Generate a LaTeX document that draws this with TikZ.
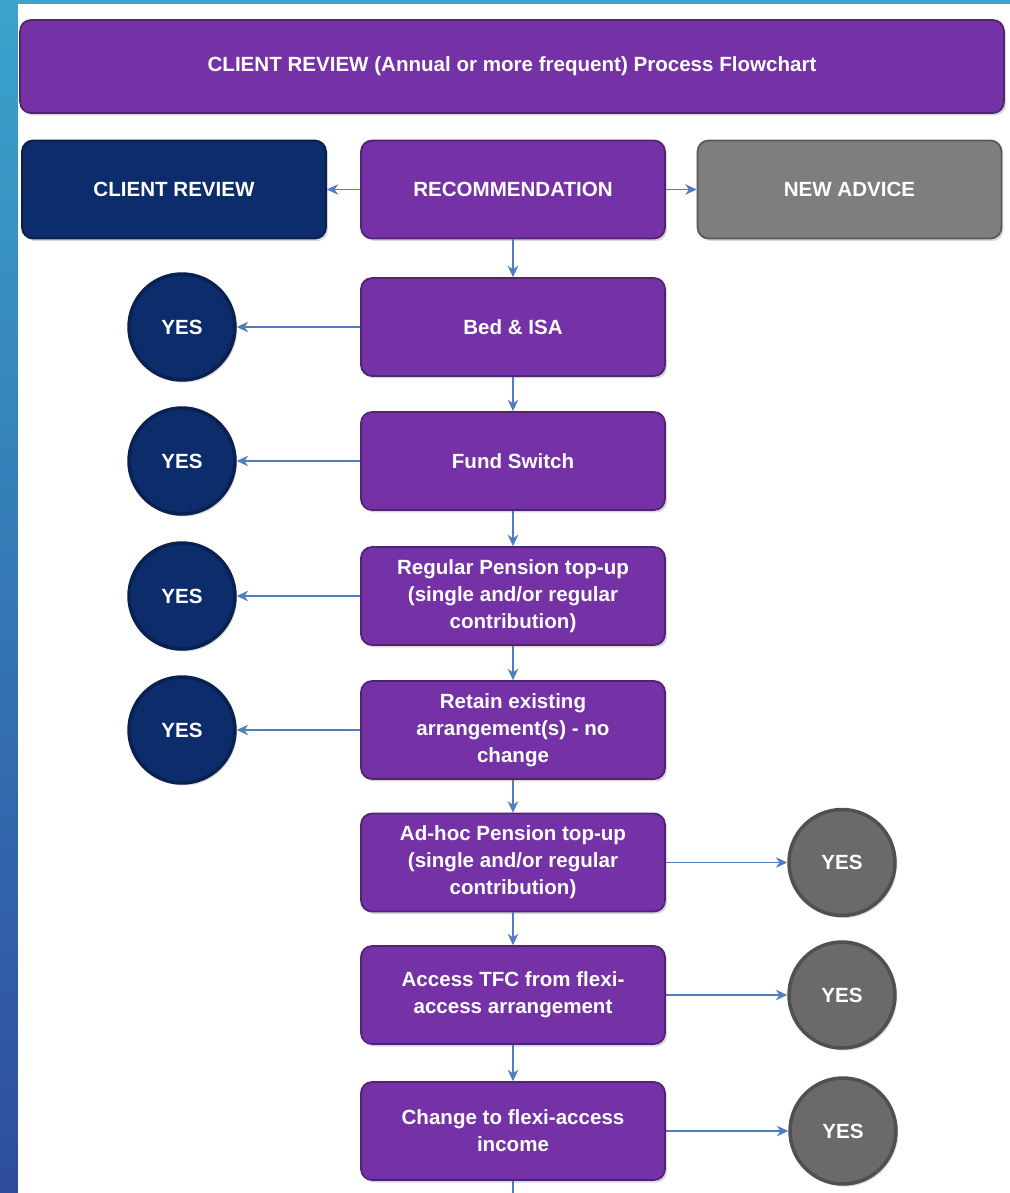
\documentclass[tikz,border=0pt]{standalone}
\usepackage{fontspec}
\setmainfont{Liberation Sans}
\usetikzlibrary{arrows.meta,positioning,calc,shadows}

\definecolor{bgtop}{HTML}{3AA3CC}
\definecolor{bgbot}{HTML}{2E4C9E}
\definecolor{purp}{HTML}{7532A6}
\definecolor{navy}{HTML}{0C2C6C}
\definecolor{greybox}{HTML}{7E7E7E}
\definecolor{greyyes}{HTML}{6A6A6A}
\definecolor{link}{HTML}{4F7DBE}

\begin{document}
\begin{tikzpicture}[x=0.02cm, y=-0.02cm,
  >={Stealth[length=6.5pt,width=6pt]},
  font=\bfseries\fontsize{11.7}{15.3}\selectfont,
  box/.style={draw=#1!70!black, fill=#1, line width=1pt, rounded corners=0.22cm,
    text=white, align=center, minimum width=6.08cm, minimum height=1.96cm,
    inner sep=2pt, drop shadow={opacity=0.3, shadow xshift=0.04cm, shadow yshift=-0.05cm}},
  yes/.style={circle, draw=#1!75!black, fill=#1, line width=2pt, text=white,
    minimum size=2.12cm, inner sep=0pt,
    drop shadow={opacity=0.3, shadow xshift=0.04cm, shadow yshift=-0.05cm}},
  link/.style={draw=link, line width=0.6pt, ->},
]

% ======================= Background and panel =======================
\shade[top color=bgtop, bottom color=bgbot] (0,0) rectangle (1010,1193);
\fill[white] (18,4) rectangle (1010,1193);
\useasboundingbox (0,0) rectangle (1010,1193);

% ======================= Title ======================================
\node[box=purp, minimum width=19.68cm, minimum height=1.86cm] (title) at (512,66.5)
  {CLIENT REVIEW (Annual or more frequent) Process Flowchart};

% ======================= Top row ====================================
\node[box=navy] (crev) at (174,189.5) {CLIENT REVIEW};
\node[box=purp] (rec) at (513,189.5) {RECOMMENDATION};
\node[box=greybox] (nadv) at (849.5,189.5) {NEW ADVICE};

% ======================= Main column ================================
\node[box=purp] (bed) at (513,327) {Bed \& ISA};
\node[box=purp] (fund) at (513,461) {Fund Switch};
\node[box=purp] (regp) at (513,596) {Regular Pension top-up\\(single and/or regular\\contribution)};
\node[box=purp] (retain) at (513,730) {Retain existing\\arrangement(s) - no\\change};
\node[box=purp] (adhoc) at (513,862.5) {Ad-hoc Pension top-up\\(single and/or regular\\contribution)};
\node[box=purp] (tfc) at (513,995) {Access TFC from flexi-\\access arrangement};
\node[box=purp] (change) at (513,1131) {Change to flexi-access\\income};
\coordinate (tail) at (513,1193);

% ======================= YES circles ================================
\node[yes=navy] (yes1) at (182,327) {YES};
\node[yes=navy] (yes2) at (182,461) {YES};
\node[yes=navy] (yes3) at (182,596) {YES};
\node[yes=navy] (yes4) at (182,730) {YES};
\node[yes=greyyes] (yes5) at (842,862.5) {YES};
\node[yes=greyyes] (yes6) at (842,995) {YES};
\node[yes=greyyes] (yes7) at (843,1131) {YES};

% ======================= Connectors =================================
\draw[link] (rec) -- (crev);
\draw[link] (rec) -- (nadv);
\draw[link] (rec) -- (bed);
\draw[link] (bed) -- (fund);
\draw[link] (fund) -- (regp);
\draw[link] (regp) -- (retain);
\draw[link] (retain) -- (adhoc);
\draw[link] (adhoc) -- (tfc);
\draw[link] (tfc) -- (change);
\draw[link, -] (change) -- (tail);
\draw[link] (bed) -- (yes1);
\draw[link] (fund) -- (yes2);
\draw[link] (regp) -- (yes3);
\draw[link] (retain) -- (yes4);
\draw[link] (adhoc) -- (yes5);
\draw[link] (tfc) -- (yes6);
\draw[link] (change) -- (yes7);

\end{tikzpicture}
\end{document}
